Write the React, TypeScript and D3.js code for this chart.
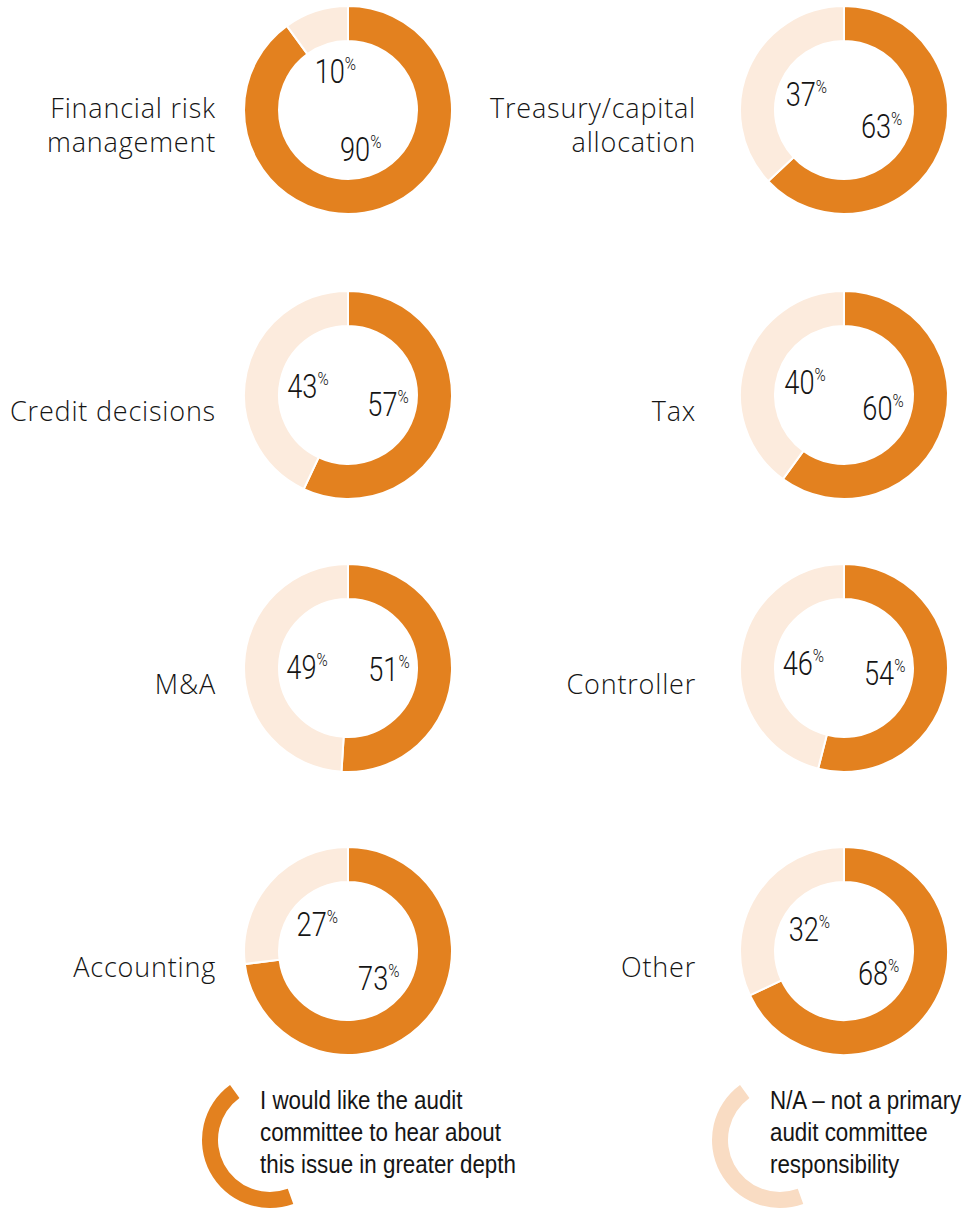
import React from "react";
import * as d3 from "d3";

// ---- data ----
const categories: string[][] = [
  ["Financial risk", "management"],
  ["Treasury/capital", "allocation"],
  ["Credit decisions"],
  ["Tax"],
  ["M&A"],
  ["Controller"],
  ["Accounting"],
  ["Other"],
];
const wouldLike: number[] = [90, 63, 57, 60, 51, 54, 73, 68];
const notApplicable: number[] = [10, 37, 43, 40, 49, 46, 27, 32];
const seriesNames: string[][] = [
  ["I would like the audit", "committee to hear about", "this issue in greater depth"],
  ["N/A \u2013 not a primary", "audit committee", "responsibility"],
];

// ---- layout / style ----
const W = 969;
const H = 1211;
const colX = [348, 844];
const labelRight = [216, 696];
const rowY = [110, 395, 668, 951];
const R_OUT = 104;
const R_IN = 69;
const DARK = "#E3811F";
const LIGHT = "#FCEBDD";
const LEGEND_LIGHT = "#F9DCC3";
const TEXT = "#151515";
const NUM_FONT = "Roboto, 'Liberation Sans', sans-serif";
const LEGEND_FONT = "'Liberation Sans', Arial, sans-serif";
const LABEL_FONT = "'Open Sans', Lato, sans-serif";

const pie = d3
  .pie<number>()
  .sort(null)
  .value((d) => d);
const arc = d3.arc<d3.PieArcDatum<number>>().innerRadius(R_IN).outerRadius(R_OUT);
const labelArc = d3.arc<d3.PieArcDatum<number>>().innerRadius(41).outerRadius(41);

function Donut({ i }: { i: number }) {
  const col = i % 2;
  const row = Math.floor(i / 2);
  const cx = colX[col];
  const cy = rowY[row];
  const slices = pie([wouldLike[i], notApplicable[i]]);
  const lines = categories[i];
  const baseY = lines.length === 1 ? 26 : 8;
  return (
    <g>
      <g transform={`translate(${cx},${cy})`}>
        {slices.map((s, k) => (
          <path
            key={k}
            d={arc(s) || ""}
            fill={k === 0 ? DARK : LIGHT}
            stroke="#fff"
            strokeWidth={2}
          />
        ))}
        {slices.map((s, k) => {
          const [lx, ly] = labelArc.centroid(s);
          return (
            <text
              key={"t" + k}
              transform={`translate(${lx},${ly + 12}) scale(0.8,1)`}
              textAnchor="middle"
              fontFamily={NUM_FONT}
              fontWeight={300}
              fontSize={34}
              fill={TEXT}
            >
              {s.data}
              <tspan fontSize={19} dy={-13}>
                %
              </tspan>
            </text>
          );
        })}
      </g>
      <text
        x={labelRight[col]}
        y={cy + baseY}
        textAnchor="end"
        fontFamily={LABEL_FONT}
        fontWeight={300}
        fontSize={27}
        letterSpacing={0.8}
        fill={TEXT}
      >
        {lines.map((l, k) => (
          <tspan key={k} x={labelRight[col]} dy={k === 0 ? 0 : 34}>
            {l}
          </tspan>
        ))}
      </text>
    </g>
  );
}

const legendArc = d3
  .arc<any>()
  .innerRadius(52)
  .outerRadius(68)
  .startAngle((160 * Math.PI) / 180)
  .endAngle((324 * Math.PI) / 180);

function Legend() {
  const items = [
    { cx: 270, tx: 260, color: DARK },
    { cx: 780, tx: 770, color: LEGEND_LIGHT },
  ];
  return (
    <g>
      {items.map((it, k) => (
        <g key={k}>
          <path
            d={legendArc({}) || ""}
            transform={`translate(${it.cx},1140)`}
            fill={it.color}
          />
          <g transform={`translate(${it.tx},1109) scale(0.86,1)`}>
            <text x={0} y={0} fontFamily={LEGEND_FONT} fontSize={26} fill={TEXT}>
              {seriesNames[k].map((l, j) => (
                <tspan key={j} x={0} dy={j === 0 ? 0 : 32}>
                  {l}
                </tspan>
              ))}
            </text>
          </g>
        </g>
      ))}
    </g>
  );
}

export default function App() {
  return (
    <div style={{ position: "absolute", left: 0, top: 0 }}>
      <svg width={W} height={H} style={{ display: "block", background: "#fff" }}>
        {categories.map((_, i) => (
          <Donut key={i} i={i} />
        ))}
        <Legend />
      </svg>
    </div>
  );
}
